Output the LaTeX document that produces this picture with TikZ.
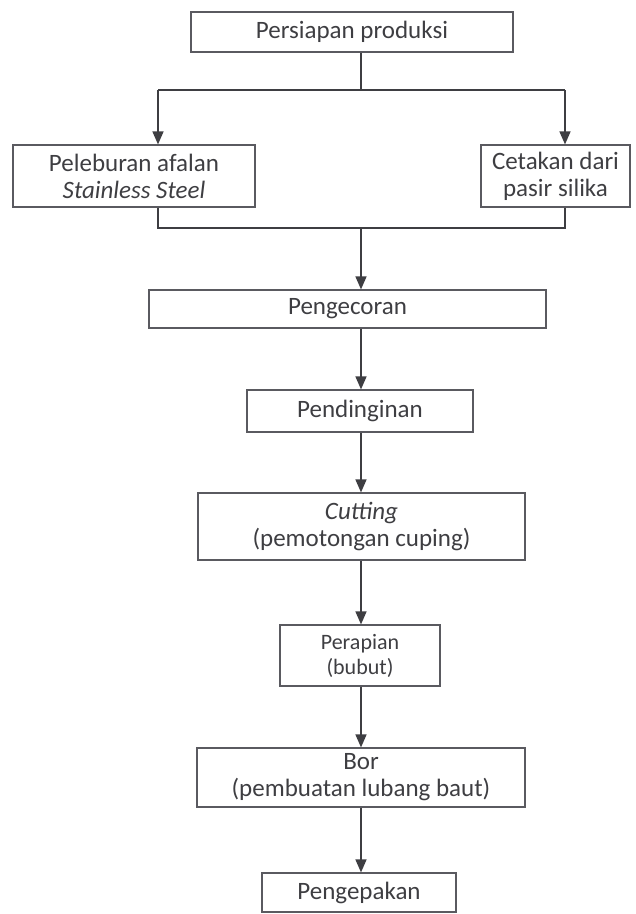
\documentclass[tikz,border=0pt]{standalone}
\usepackage{fontspec}
\setmainfont{Carlito}
\usepackage{tikz}
\usetikzlibrary{arrows.meta, positioning}
\definecolor{ink}{RGB}{62, 62, 66}
\definecolor{frame}{RGB}{90, 90, 96}

\begin{document}
\begin{tikzpicture}[
  x=1pt, y=-1pt,
  box/.style={draw=frame, line width=1.2pt, inner sep=0pt, align=center,
               text=ink, font=\fontsize{25}{27}\selectfont},
  smallbox/.style={box, font=\fontsize{22}{25}\selectfont},
  line/.style={draw=ink, line width=1.5pt},
  arr/.style={line, -{Triangle[width=11pt, length=13pt]}},
]
\useasboundingbox (0,0) rectangle (636,914);

% Preparation and the two branches
\node[box, minimum width=322pt, minimum height=40pt] (prep) at (352,32) {Persiapan produksi};
\node[box, minimum width=242pt, minimum height=62pt] (melt) at (134,176)
  {Peleburan afalan\\\textit{Stainless Steel}};
\node[box, minimum width=149pt, minimum height=62pt] (mould) at (555.5,176)
  {Cetakan dari\\pasir silika};

% Main line
\node[box, minimum width=397pt, minimum height=38pt] (cast) at (347.5,309) {Pengecoran};
\node[box, minimum width=226pt, minimum height=42pt] (cool) at (360,411) {Pendinginan};
\node[box, minimum width=327pt, minimum height=67pt] (cut) at (361.5,526.5)
  {\textit{Cutting}\\(pemotongan cuping)};
\node[smallbox, minimum width=160pt, minimum height=61pt] (trim) at (360,655.5)
  {Perapian\\(bubut)};
\node[box, minimum width=328pt, minimum height=59pt] (drill) at (361,777.5)
  {Bor\\(pembuatan lubang baut)};
\node[box, minimum width=194pt, minimum height=39pt] (pack) at (359,892.5) {Pengepakan};

% Split and join points
\coordinate (split)  at (361,90);
\coordinate (splitL) at (158,90);
\coordinate (splitR) at (565,90);
\coordinate (join)   at (361,228);
\coordinate (joinL)  at (158,228);
\coordinate (joinR)  at (565,228);

% Arrows — branches
\draw[line] (prep.south -| split) -- (split);
\draw[line] (splitL) -- (splitR);
\draw[arr] (splitL) -- (splitL |- melt.north);
\draw[arr] (splitR) -- (splitR |- mould.north);
\draw[line] (melt.south -| joinL) -- (joinL) -- (joinR) -- (mould.south -| joinR);

% Arrows — main line
\draw[arr] (join) -- (join |- cast.north);
\draw[arr] (cast.south -| join) -- (join |- cool.north);
\draw[arr] (cool.south -| join) -- (join |- cut.north);
\draw[arr] (cut.south -| join) -- (join |- trim.north);
\draw[arr] (trim.south -| join) -- (join |- drill.north);
\draw[arr] (drill.south -| join) -- (join |- pack.north);

\end{tikzpicture}
\end{document}
